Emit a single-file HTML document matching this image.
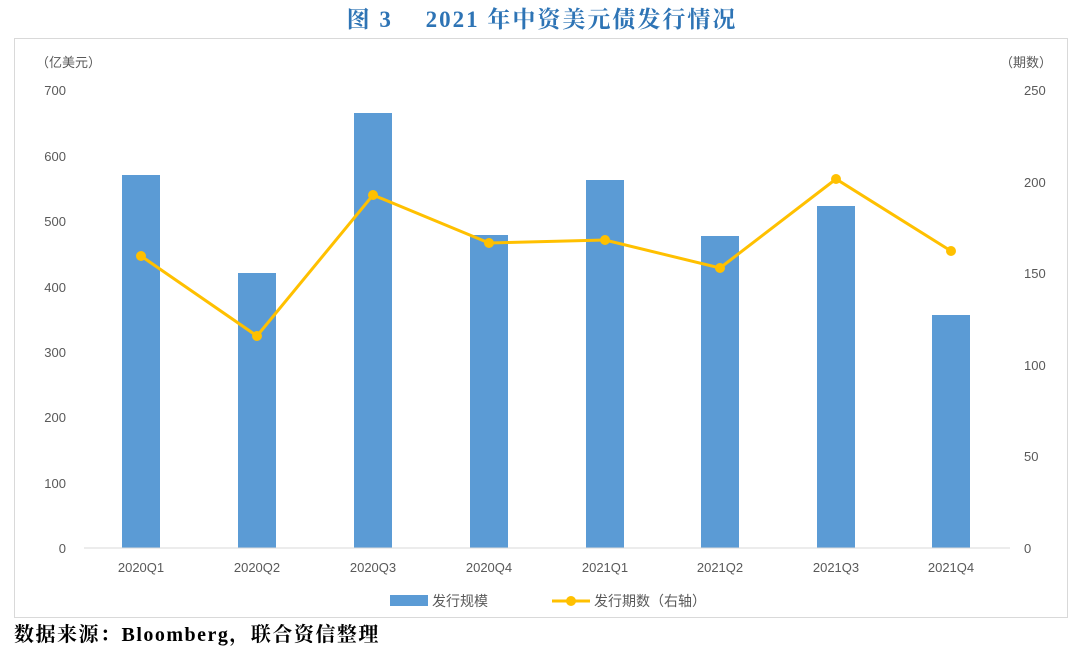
<!DOCTYPE html>
<html><head><meta charset="utf-8"><style>
body{margin:0;background:#fff;width:1080px;height:653px;overflow:hidden}
</style></head><body>
<svg width="1080" height="653" xmlns="http://www.w3.org/2000/svg" font-family="Liberation Sans, Noto Sans CJK SC, sans-serif">
<text x="542" y="27" text-anchor="middle" font-family="Liberation Serif, Noto Serif CJK SC, serif" font-weight="bold" font-size="23" letter-spacing="2" fill="#2E74B5">图 3　 2021 年中资美元债发行情况</text>
<rect x="14.5" y="38.5" width="1053" height="579" fill="none" stroke="#d9d9d9"/>
<g font-size="13" fill="#595959">
<text x="36" y="67">（亿美元）</text>
<text x="1052" y="67" text-anchor="end">（期数）</text>
<g text-anchor="end">
<text x="66" y="95">700</text><text x="66" y="161">600</text><text x="66" y="226">500</text><text x="66" y="292">400</text><text x="66" y="357">300</text><text x="66" y="422">200</text><text x="66" y="488">100</text><text x="66" y="553">0</text>
</g>
<text x="1024" y="95">250</text><text x="1024" y="187">200</text><text x="1024" y="370">100</text><text x="1024" y="278">150</text><text x="1024" y="461">50</text><text x="1024" y="553">0</text>
<g text-anchor="middle">
<text x="141" y="572">2020Q1</text><text x="257" y="572">2020Q2</text><text x="373" y="572">2020Q3</text><text x="489" y="572">2020Q4</text><text x="605" y="572">2021Q1</text><text x="720" y="572">2021Q2</text><text x="836" y="572">2021Q3</text><text x="951" y="572">2021Q4</text>
</g>
</g>
<g fill="#5B9BD5">
<rect x="122" y="175" width="38" height="373"/>
<rect x="238" y="273" width="38" height="275"/>
<rect x="354" y="113" width="38" height="435"/>
<rect x="470" y="235" width="38" height="313"/>
<rect x="586" y="180" width="38" height="368"/>
<rect x="701" y="236" width="38" height="312"/>
<rect x="817" y="206" width="38" height="342"/>
<rect x="932" y="315" width="38" height="233"/>
</g>
<line x1="84" y1="548" x2="1010" y2="548" stroke="#d9d9d9"/>
<polyline points="141,256 257,336 373,195 489,243 605,240 720,268 836,179 951,251" fill="none" stroke="#FFC000" stroke-width="3"/>
<g fill="#FFC000">
<circle cx="141" cy="256" r="5"/><circle cx="257" cy="336" r="5"/><circle cx="373" cy="195" r="5"/><circle cx="489" cy="243" r="5"/><circle cx="605" cy="240" r="5"/><circle cx="720" cy="268" r="5"/><circle cx="836" cy="179" r="5"/><circle cx="951" cy="251" r="5"/>
</g>
<rect x="390" y="595" width="38" height="11" fill="#5B9BD5"/>
<text x="432" y="606" font-size="14" fill="#595959">发行规模</text>
<line x1="552" y1="601" x2="590" y2="601" stroke="#FFC000" stroke-width="3"/>
<circle cx="571" cy="601" r="5" fill="#FFC000"/>
<text x="594" y="606" font-size="14" fill="#595959">发行期数（右轴）</text>
<text x="14" y="641" font-family="Liberation Serif, Noto Serif CJK SC, serif" font-weight="bold" font-size="20" letter-spacing="1.5" fill="#000">数据来源：Bloomberg，联合资信整理</text>
</svg>
</body></html>
